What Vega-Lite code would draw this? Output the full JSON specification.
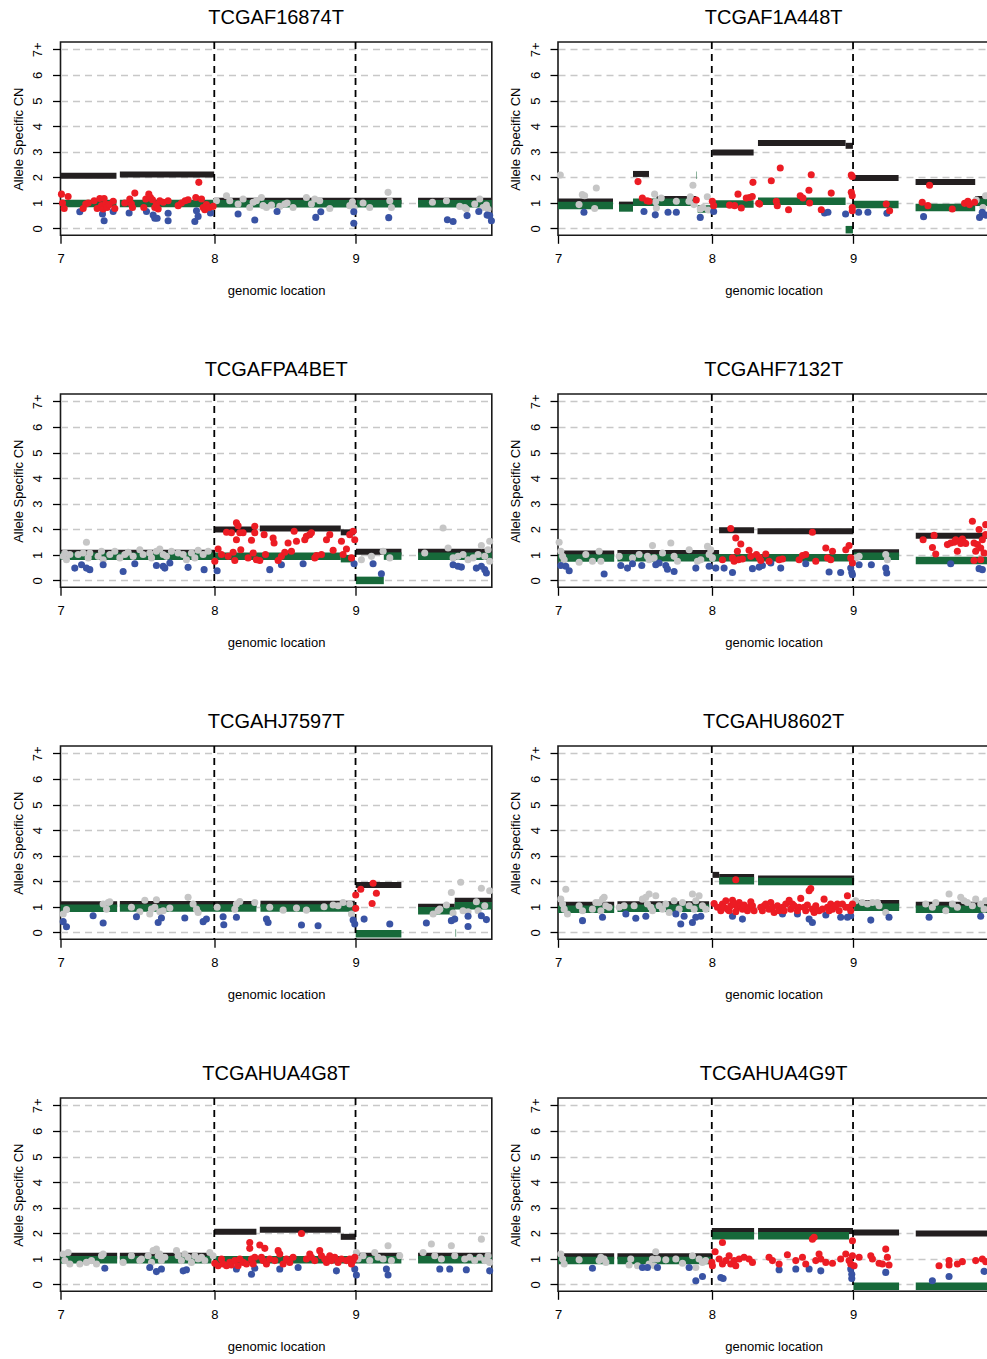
{
"$schema":"https://vega.github.io/schema/vega-lite/v6.json",
"padding":{"left":10.5,"top":6,"right":0,"bottom":0},
"columns":2,
"spacing":{"column":65.5,"row":158},
"bounds":"flush",
"data":{"values":[
{"s":1,"k":"M","x":0,"x2":58,"cn":2.06},{"s":1,"k":"M","x":61.5,"x2":159.2,"cn":2.11},{"s":1,"k":"M","x":159.2,"x2":353.3,"cn":1.08},{"s":1,"k":"M","x":370.5,"x2":446.9,"cn":1.08},
{"s":1,"k":"m","x":0,"x2":58,"cn":0.97},{"s":1,"k":"m","x":61.5,"x2":159.2,"cn":0.97},{"s":1,"k":"m","x":159.2,"x2":353.3,"cn":0.96},{"s":1,"k":"m","x":370.5,"x2":446.9,"cn":0.96},
{"s":1,"k":"c","x":159.35},{"s":1,"k":"c","x":305.71},
{"s":1,"k":"g","x":161.6,"cn":1.08},{"s":1,"k":"g","x":172,"cn":1.28},{"s":1,"k":"g","x":175.4,"cn":1.08},{"s":1,"k":"g","x":184,"cn":0.95},{"s":1,"k":"g","x":189.2,"cn":1.15},{"s":1,"k":"g","x":196.1,"cn":0.82},{"s":1,"k":"g","x":199.6,"cn":1.02},{"s":1,"k":"g","x":203,"cn":1.08},{"s":1,"k":"g","x":208.2,"cn":1.21},{"s":1,"k":"g","x":209.9,"cn":0.89},{"s":1,"k":"g","x":213.4,"cn":0.82},{"s":1,"k":"g","x":218.6,"cn":0.91},{"s":1,"k":"g","x":227.2,"cn":0.86},{"s":1,"k":"g","x":232.4,"cn":0.95},{"s":1,"k":"g","x":234.8,"cn":0.99},{"s":1,"k":"g","x":241,"cn":0.82},{"s":1,"k":"g","x":254.8,"cn":1.21},{"s":1,"k":"g","x":260,"cn":0.95},{"s":1,"k":"g","x":263.5,"cn":1.15},{"s":1,"k":"g","x":268.6,"cn":1.08},{"s":1,"k":"g","x":279,"cn":0.78},{"s":1,"k":"g","x":299.7,"cn":0.89},{"s":1,"k":"g","x":302.5,"cn":1.04},{"s":1,"k":"g","x":304.2,"cn":0.82},{"s":1,"k":"g","x":313.5,"cn":0.99},{"s":1,"k":"g","x":320.4,"cn":0.82},{"s":1,"k":"g","x":339.4,"cn":1.41},{"s":1,"k":"g","x":341.2,"cn":1.08},{"s":1,"k":"g","x":342.9,"cn":0.82},{"s":1,"k":"g","x":385.4,"cn":1.02},{"s":1,"k":"g","x":399.9,"cn":1.08},{"s":1,"k":"g","x":413.7,"cn":0.86},{"s":1,"k":"g","x":418.9,"cn":0.82},{"s":1,"k":"g","x":420.6,"cn":0.76},{"s":1,"k":"g","x":429.2,"cn":0.95},{"s":1,"k":"g","x":434.4,"cn":1.15},{"s":1,"k":"g","x":437.8,"cn":0.82},{"s":1,"k":"g","x":441.3,"cn":0.91},{"s":1,"k":"g","x":443,"cn":0.76},
{"s":1,"k":"b","x":20,"cn":0.65},{"s":1,"k":"b","x":43.5,"cn":0.56},{"s":1,"k":"b","x":45.2,"cn":0.3},{"s":1,"k":"b","x":54.6,"cn":0.66},{"s":1,"k":"b","x":71.1,"cn":0.6},{"s":1,"k":"b","x":89.1,"cn":0.66},{"s":1,"k":"b","x":96,"cn":0.52},{"s":1,"k":"b","x":97.7,"cn":0.4},{"s":1,"k":"b","x":100.1,"cn":0.4},{"s":1,"k":"b","x":111.5,"cn":0.59},{"s":1,"k":"b","x":111.5,"cn":0.3},{"s":1,"k":"b","x":139.2,"cn":0.27},{"s":1,"k":"b","x":140.9,"cn":0.69},{"s":1,"k":"b","x":142.6,"cn":0.47},{"s":1,"k":"b","x":155.4,"cn":0.6},{"s":1,"k":"b","x":184,"cn":0.56},{"s":1,"k":"b","x":201.3,"cn":0.33},{"s":1,"k":"b","x":224.4,"cn":0.66},{"s":1,"k":"b","x":264.5,"cn":0.43},{"s":1,"k":"b","x":269.7,"cn":0.65},{"s":1,"k":"b","x":303.9,"cn":0.65},{"s":1,"k":"b","x":303.9,"cn":0.2},{"s":1,"k":"b","x":340.1,"cn":0.42},{"s":1,"k":"b","x":400.9,"cn":0.34},{"s":1,"k":"b","x":406.8,"cn":0.27},{"s":1,"k":"b","x":421.3,"cn":0.5},{"s":1,"k":"b","x":433.4,"cn":0.66},{"s":1,"k":"b","x":442,"cn":0.52},{"s":1,"k":"b","x":444.7,"cn":0.5},{"s":1,"k":"b","x":446.5,"cn":0.3},
{"s":1,"k":"r","x":1,"cn":1.34},{"s":1,"k":"r","x":2.1,"cn":0.99},{"s":1,"k":"r","x":3.8,"cn":0.78},{"s":1,"k":"r","x":7.9,"cn":1.25},{"s":1,"k":"r","x":23.5,"cn":0.78},{"s":1,"k":"r","x":26.2,"cn":0.95},{"s":1,"k":"r","x":28.7,"cn":0.99},{"s":1,"k":"r","x":34.9,"cn":1.08},{"s":1,"k":"r","x":38,"cn":0.78},{"s":1,"k":"r","x":40.7,"cn":1.17},{"s":1,"k":"r","x":42.5,"cn":0.89},{"s":1,"k":"r","x":44.2,"cn":0.76},{"s":1,"k":"r","x":45.2,"cn":1.17},{"s":1,"k":"r","x":47,"cn":0.95},{"s":1,"k":"r","x":48.3,"cn":0.82},{"s":1,"k":"r","x":50.4,"cn":0.93},{"s":1,"k":"r","x":54.6,"cn":1.06},{"s":1,"k":"r","x":56.3,"cn":0.78},{"s":1,"k":"r","x":66.6,"cn":0.99},{"s":1,"k":"r","x":71.8,"cn":1.15},{"s":1,"k":"r","x":73.5,"cn":0.95},{"s":1,"k":"r","x":74.6,"cn":0.82},{"s":1,"k":"r","x":77,"cn":1.38},{"s":1,"k":"r","x":86.3,"cn":0.82},{"s":1,"k":"r","x":88.4,"cn":1.15},{"s":1,"k":"r","x":91.5,"cn":1.34},{"s":1,"k":"r","x":93.2,"cn":1.21},{"s":1,"k":"r","x":95.3,"cn":1.12},{"s":1,"k":"r","x":97.7,"cn":0.82},{"s":1,"k":"r","x":99.4,"cn":0.93},{"s":1,"k":"r","x":101.2,"cn":0.76},{"s":1,"k":"r","x":102.9,"cn":1.08},{"s":1,"k":"r","x":106.4,"cn":1.02},{"s":1,"k":"r","x":111.5,"cn":1.08},{"s":1,"k":"r","x":121.9,"cn":0.89},{"s":1,"k":"r","x":125.3,"cn":0.99},{"s":1,"k":"r","x":129.1,"cn":1.08},{"s":1,"k":"r","x":132.2,"cn":1.12},{"s":1,"k":"r","x":140.2,"cn":1.21},{"s":1,"k":"r","x":143.3,"cn":1.8},{"s":1,"k":"r","x":146.1,"cn":1.15},{"s":1,"k":"r","x":147.8,"cn":0.82},{"s":1,"k":"r","x":149.5,"cn":0.73},{"s":1,"k":"r","x":151.2,"cn":0.93},{"s":1,"k":"r","x":154,"cn":0.82},{"s":1,"k":"r","x":158.1,"cn":0.86},

{"s":2,"k":"M","x":0,"x2":57,"cn":1.05},{"s":2,"k":"M","x":63.2,"x2":77.7,"cn":0.93},{"s":2,"k":"M","x":77.7,"x2":94.3,"cn":2.13},{"s":2,"k":"M","x":101.9,"x2":143.3,"cn":1.15},{"s":2,"k":"M","x":159.9,"x2":202.7,"cn":2.97},{"s":2,"k":"M","x":207.2,"x2":298,"cn":3.34},{"s":2,"k":"M","x":298,"x2":305.6,"cn":3.23},{"s":2,"k":"M","x":305.6,"x2":352.9,"cn":1.97},{"s":2,"k":"M","x":370.5,"x2":432.3,"cn":1.81},{"s":2,"k":"M","x":432.3,"x2":446.9,"cn":1.15},
{"s":2,"k":"m","x":0,"x2":57,"cn":0.9},{"s":2,"k":"m","x":63.2,"x2":77.7,"cn":0.8},{"s":2,"k":"m","x":77.7,"x2":143.3,"cn":1.02},{"s":2,"k":"m","x":143.4,"x2":143.9,"cn":2.08},{"s":2,"k":"m","x":144.7,"x2":159.9,"cn":0.76},{"s":2,"k":"m","x":159.9,"x2":202.7,"cn":0.95},{"s":2,"k":"m","x":207.2,"x2":298,"cn":1.06},{"s":2,"k":"m","x":298,"x2":305.6,"cn":-0.05},{"s":2,"k":"m","x":305.6,"x2":352.9,"cn":0.93},{"s":2,"k":"m","x":370.5,"x2":432.3,"cn":0.82},{"s":2,"k":"m","x":432.3,"x2":446.9,"cn":1.02},
{"s":2,"k":"c","x":159.35},{"s":2,"k":"c","x":305.71},
{"s":2,"k":"g","x":2.4,"cn":2.09},{"s":2,"k":"g","x":21.8,"cn":0.93},{"s":2,"k":"g","x":25.2,"cn":1.32},{"s":2,"k":"g","x":27.6,"cn":1.28},{"s":2,"k":"g","x":38,"cn":0.78},{"s":2,"k":"g","x":39.7,"cn":1.58},{"s":2,"k":"g","x":100.1,"cn":1.34},{"s":2,"k":"g","x":101.2,"cn":1.04},{"s":2,"k":"g","x":101.9,"cn":0.8},{"s":2,"k":"g","x":107,"cn":1.19},{"s":2,"k":"g","x":122.6,"cn":1.06},{"s":2,"k":"g","x":135.7,"cn":1.06},{"s":2,"k":"g","x":137.1,"cn":1.24},{"s":2,"k":"g","x":139.8,"cn":1.69},{"s":2,"k":"g","x":140.9,"cn":0.93},{"s":2,"k":"g","x":147.4,"cn":0.76},{"s":2,"k":"g","x":150.2,"cn":0.82},{"s":2,"k":"g","x":154.7,"cn":1.24},{"s":2,"k":"g","x":155.7,"cn":0.72},{"s":2,"k":"g","x":433.3,"cn":1.11},{"s":2,"k":"g","x":440.3,"cn":0.82},{"s":2,"k":"g","x":443,"cn":1.28},
{"s":2,"k":"b","x":26.9,"cn":0.63},{"s":2,"k":"b","x":89.1,"cn":0.66},{"s":2,"k":"b","x":100.8,"cn":0.53},{"s":2,"k":"b","x":114,"cn":0.63},{"s":2,"k":"b","x":122.6,"cn":0.63},{"s":2,"k":"b","x":147.4,"cn":0.43},{"s":2,"k":"b","x":161.3,"cn":0.66},{"s":2,"k":"b","x":276.2,"cn":0.6},{"s":2,"k":"b","x":279.7,"cn":0.63},{"s":2,"k":"b","x":298,"cn":0.56},{"s":2,"k":"b","x":311.5,"cn":0.63},{"s":2,"k":"b","x":321.1,"cn":0.63},{"s":2,"k":"b","x":340.8,"cn":0.59},{"s":2,"k":"b","x":378.8,"cn":0.46},{"s":2,"k":"b","x":436.8,"cn":0.43},{"s":2,"k":"b","x":439.6,"cn":0.63},{"s":2,"k":"b","x":443,"cn":0.52},
{"s":2,"k":"r","x":82.9,"cn":1.83},{"s":2,"k":"r","x":87.4,"cn":1.19},{"s":2,"k":"r","x":92.2,"cn":1.08},{"s":2,"k":"r","x":94.3,"cn":1.06},{"s":2,"k":"r","x":143.3,"cn":1.11},{"s":2,"k":"r","x":159.9,"cn":1.06},{"s":2,"k":"r","x":161.3,"cn":0.89},{"s":2,"k":"r","x":177.8,"cn":0.91},{"s":2,"k":"r","x":183,"cn":0.89},{"s":2,"k":"r","x":186.5,"cn":1.34},{"s":2,"k":"r","x":189.9,"cn":0.8},{"s":2,"k":"r","x":195.1,"cn":1.19},{"s":2,"k":"r","x":198.5,"cn":1.21},{"s":2,"k":"r","x":201.3,"cn":1.25},{"s":2,"k":"r","x":202,"cn":1.8},{"s":2,"k":"r","x":207.9,"cn":0.98},{"s":2,"k":"r","x":208.9,"cn":0.95},{"s":2,"k":"r","x":221,"cn":1.86},{"s":2,"k":"r","x":226.2,"cn":1.06},{"s":2,"k":"r","x":227.2,"cn":0.89},{"s":2,"k":"r","x":230.3,"cn":2.36},{"s":2,"k":"r","x":238.9,"cn":0.73},{"s":2,"k":"r","x":251,"cn":1.28},{"s":2,"k":"r","x":253.8,"cn":1.19},{"s":2,"k":"r","x":260,"cn":1.49},{"s":2,"k":"r","x":260.7,"cn":0.99},{"s":2,"k":"r","x":262.4,"cn":2.1},{"s":2,"k":"r","x":272.8,"cn":0.73},{"s":2,"k":"r","x":283.1,"cn":1.38},{"s":2,"k":"r","x":303.9,"cn":2.09},{"s":2,"k":"r","x":304.9,"cn":2.03},{"s":2,"k":"r","x":303.9,"cn":1.41},{"s":2,"k":"r","x":304.9,"cn":1.28},{"s":2,"k":"r","x":304.9,"cn":0.82},{"s":2,"k":"r","x":304.9,"cn":0.69},{"s":2,"k":"r","x":340.1,"cn":0.95},{"s":2,"k":"r","x":343.6,"cn":0.69},{"s":2,"k":"r","x":377.4,"cn":1.02},{"s":2,"k":"r","x":383.3,"cn":0.89},{"s":2,"k":"r","x":385,"cn":1.69},{"s":2,"k":"r","x":408.5,"cn":0.76},{"s":2,"k":"r","x":421.3,"cn":0.98},{"s":2,"k":"r","x":424.7,"cn":1.06},{"s":2,"k":"r","x":426.4,"cn":0.93},{"s":2,"k":"r","x":431.6,"cn":1.02},

{"s":3,"k":"M","x":0,"x2":159.2,"cn":1.08},{"s":3,"k":"M","x":159.2,"x2":203,"cn":1.99},{"s":3,"k":"M","x":206.5,"x2":290.4,"cn":2.03},{"s":3,"k":"M","x":290.4,"x2":304.9,"cn":1.88},{"s":3,"k":"M","x":306.1,"x2":353.3,"cn":1.12},{"s":3,"k":"M","x":370.5,"x2":446.9,"cn":1.12},
{"s":3,"k":"m","x":0,"x2":159.2,"cn":0.94},{"s":3,"k":"m","x":159.2,"x2":290.4,"cn":0.94},{"s":3,"k":"m","x":290.4,"x2":304.9,"cn":0.85},{"s":3,"k":"m","x":306.1,"x2":335,"cn":0},{"s":3,"k":"m","x":335,"x2":353.3,"cn":0.95},{"s":3,"k":"m","x":370.5,"x2":446.9,"cn":0.94},
{"s":3,"k":"c","x":159.35},{"s":3,"k":"c","x":305.71},
{"s":3,"k":"g","x":2.8,"cn":0.94},{"s":3,"k":"g","x":4.5,"cn":1.07},{"s":3,"k":"g","x":6.2,"cn":0.81},{"s":3,"k":"g","x":9.7,"cn":1.01},{"s":3,"k":"g","x":18.3,"cn":1.01},{"s":3,"k":"g","x":23.5,"cn":1.07},{"s":3,"k":"g","x":26.9,"cn":1.49},{"s":3,"k":"g","x":28.7,"cn":0.88},{"s":3,"k":"g","x":30.4,"cn":1.07},{"s":3,"k":"g","x":39,"cn":0.94},{"s":3,"k":"g","x":42.5,"cn":1.14},{"s":3,"k":"g","x":44.2,"cn":0.81},{"s":3,"k":"g","x":51.1,"cn":1.01},{"s":3,"k":"g","x":56.3,"cn":1.14},{"s":3,"k":"g","x":61.5,"cn":0.88},{"s":3,"k":"g","x":66.6,"cn":1.01},{"s":3,"k":"g","x":70.1,"cn":1.1},{"s":3,"k":"g","x":75.3,"cn":0.94},{"s":3,"k":"g","x":82.2,"cn":1.2},{"s":3,"k":"g","x":85.6,"cn":1.01},{"s":3,"k":"g","x":92.5,"cn":1.07},{"s":3,"k":"g","x":94.3,"cn":0.88},{"s":3,"k":"g","x":99.4,"cn":1.14},{"s":3,"k":"g","x":102.9,"cn":1.23},{"s":3,"k":"g","x":106.4,"cn":1.01},{"s":3,"k":"g","x":109.8,"cn":0.94},{"s":3,"k":"g","x":115,"cn":1.14},{"s":3,"k":"g","x":121.9,"cn":1.07},{"s":3,"k":"g","x":127.1,"cn":1.01},{"s":3,"k":"g","x":130.5,"cn":0.81},{"s":3,"k":"g","x":135.7,"cn":1.07},{"s":3,"k":"g","x":139.2,"cn":0.88},{"s":3,"k":"g","x":142.6,"cn":1.18},{"s":3,"k":"g","x":147.8,"cn":1.01},{"s":3,"k":"g","x":153,"cn":1.14},{"s":3,"k":"g","x":311.8,"cn":0.81},{"s":3,"k":"g","x":322.2,"cn":0.94},{"s":3,"k":"g","x":334.3,"cn":1.14},{"s":3,"k":"g","x":341.2,"cn":0.88},{"s":3,"k":"g","x":377.4,"cn":1.07},{"s":3,"k":"g","x":396.4,"cn":2.05},{"s":3,"k":"g","x":401.6,"cn":1.27},{"s":3,"k":"g","x":406.8,"cn":0.88},{"s":3,"k":"g","x":411.9,"cn":0.94},{"s":3,"k":"g","x":417.1,"cn":1.01},{"s":3,"k":"g","x":422.3,"cn":0.81},{"s":3,"k":"g","x":427.5,"cn":0.88},{"s":3,"k":"g","x":432.7,"cn":1.01},{"s":3,"k":"g","x":436.1,"cn":1.36},{"s":3,"k":"g","x":439.6,"cn":0.94},{"s":3,"k":"g","x":443,"cn":1.2},{"s":3,"k":"g","x":444.7,"cn":1.53},{"s":3,"k":"g","x":444.7,"cn":0.75},
{"s":3,"k":"b","x":14.8,"cn":0.48},{"s":3,"k":"b","x":21.8,"cn":0.61},{"s":3,"k":"b","x":26.9,"cn":0.48},{"s":3,"k":"b","x":30.4,"cn":0.42},{"s":3,"k":"b","x":44.2,"cn":0.61},{"s":3,"k":"b","x":64.9,"cn":0.35},{"s":3,"k":"b","x":77,"cn":0.65},{"s":3,"k":"b","x":99.4,"cn":0.58},{"s":3,"k":"b","x":106.4,"cn":0.55},{"s":3,"k":"b","x":108.1,"cn":0.48},{"s":3,"k":"b","x":113.3,"cn":0.68},{"s":3,"k":"b","x":132.2,"cn":0.51},{"s":3,"k":"b","x":148.8,"cn":0.42},{"s":3,"k":"b","x":162.3,"cn":0.38},{"s":3,"k":"b","x":216.8,"cn":0.42},{"s":3,"k":"b","x":228.9,"cn":0.61},{"s":3,"k":"b","x":251.4,"cn":0.65},{"s":3,"k":"b","x":304.2,"cn":0.65},{"s":3,"k":"b","x":323.9,"cn":0.65},{"s":3,"k":"b","x":332.5,"cn":0.26},{"s":3,"k":"b","x":406.8,"cn":0.61},{"s":3,"k":"b","x":411.9,"cn":0.55},{"s":3,"k":"b","x":415.4,"cn":0.52},{"s":3,"k":"b","x":430.9,"cn":0.48},{"s":3,"k":"b","x":436.1,"cn":0.55},{"s":3,"k":"b","x":439.6,"cn":0.42},{"s":3,"k":"b","x":441.3,"cn":0.29},
{"s":3,"k":"r","x":159.9,"cn":0.75},{"s":3,"k":"r","x":163.3,"cn":1.23},{"s":3,"k":"r","x":166.8,"cn":1.01},{"s":3,"k":"r","x":172,"cn":1.88},{"s":3,"k":"r","x":173.7,"cn":0.94},{"s":3,"k":"r","x":177.1,"cn":1.86},{"s":3,"k":"r","x":178.9,"cn":1.1},{"s":3,"k":"r","x":180.6,"cn":0.78},{"s":3,"k":"r","x":182.3,"cn":2.25},{"s":3,"k":"r","x":182.3,"cn":1.59},{"s":3,"k":"r","x":184,"cn":2.14},{"s":3,"k":"r","x":185.8,"cn":1.86},{"s":3,"k":"r","x":186.8,"cn":1.2},{"s":3,"k":"r","x":189.2,"cn":1.86},{"s":3,"k":"r","x":194.4,"cn":0.88},{"s":3,"k":"r","x":197.9,"cn":1.57},{"s":3,"k":"r","x":199.6,"cn":1.07},{"s":3,"k":"r","x":201.3,"cn":2.12},{"s":3,"k":"r","x":201.3,"cn":1.86},{"s":3,"k":"r","x":203,"cn":0.81},{"s":3,"k":"r","x":206.5,"cn":0.78},{"s":3,"k":"r","x":211,"cn":1.79},{"s":3,"k":"r","x":212.4,"cn":1.01},{"s":3,"k":"r","x":220.3,"cn":1.66},{"s":3,"k":"r","x":221.3,"cn":1.46},{"s":3,"k":"r","x":225.5,"cn":0.78},{"s":3,"k":"r","x":228.9,"cn":0.94},{"s":3,"k":"r","x":232.4,"cn":1.1},{"s":3,"k":"r","x":235.8,"cn":1.46},{"s":3,"k":"r","x":239.3,"cn":1.14},{"s":3,"k":"r","x":242.1,"cn":1.92},{"s":3,"k":"r","x":244.5,"cn":1.53},{"s":3,"k":"r","x":253.1,"cn":1.59},{"s":3,"k":"r","x":254.8,"cn":1.73},{"s":3,"k":"r","x":258.3,"cn":1.79},{"s":3,"k":"r","x":260,"cn":1.86},{"s":3,"k":"r","x":263.5,"cn":0.88},{"s":3,"k":"r","x":265.2,"cn":0.97},{"s":3,"k":"r","x":270.4,"cn":1.01},{"s":3,"k":"r","x":275.6,"cn":1.59},{"s":3,"k":"r","x":279,"cn":1.79},{"s":3,"k":"r","x":282.5,"cn":1.18},{"s":3,"k":"r","x":291.1,"cn":1.53},{"s":3,"k":"r","x":292.8,"cn":1.01},{"s":3,"k":"r","x":296.3,"cn":1.23},{"s":3,"k":"r","x":299.7,"cn":1.79},{"s":3,"k":"r","x":301.5,"cn":0.88},{"s":3,"k":"r","x":303.2,"cn":1.92},{"s":3,"k":"r","x":304.9,"cn":1.59},

{"s":4,"k":"M","x":0,"x2":58.2,"cn":1.05},{"s":4,"k":"M","x":61.6,"x2":166.9,"cn":1.07},{"s":4,"k":"M","x":166.9,"x2":203.2,"cn":1.96},{"s":4,"k":"M","x":206.7,"x2":306.1,"cn":1.92},{"s":4,"k":"M","x":306.1,"x2":353.4,"cn":1.1},{"s":4,"k":"M","x":370.7,"x2":446.9,"cn":1.75},
{"s":4,"k":"m","x":0,"x2":58.2,"cn":0.88},{"s":4,"k":"m","x":61.6,"x2":306.1,"cn":0.89},{"s":4,"k":"m","x":306.1,"x2":353.4,"cn":0.94},{"s":4,"k":"m","x":370.7,"x2":446.9,"cn":0.78},
{"s":4,"k":"c","x":159.35},{"s":4,"k":"c","x":305.71},
{"s":4,"k":"g","x":1.2,"cn":1.49},{"s":4,"k":"g","x":2.9,"cn":1.14},{"s":4,"k":"g","x":4.7,"cn":0.94},{"s":4,"k":"g","x":6.4,"cn":0.81},{"s":4,"k":"g","x":21.9,"cn":0.71},{"s":4,"k":"g","x":28.8,"cn":1.01},{"s":4,"k":"g","x":35.7,"cn":0.75},{"s":4,"k":"g","x":42.6,"cn":1.14},{"s":4,"k":"g","x":44.4,"cn":0.75},{"s":4,"k":"g","x":63.4,"cn":0.94},{"s":4,"k":"g","x":77.2,"cn":0.88},{"s":4,"k":"g","x":84.1,"cn":1.01},{"s":4,"k":"g","x":92.7,"cn":0.94},{"s":4,"k":"g","x":94.4,"cn":0.81},{"s":4,"k":"g","x":97.9,"cn":1.36},{"s":4,"k":"g","x":99.6,"cn":0.88},{"s":4,"k":"g","x":108.3,"cn":1.07},{"s":4,"k":"g","x":116.9,"cn":1.46},{"s":4,"k":"g","x":120.3,"cn":0.94},{"s":4,"k":"g","x":123.8,"cn":0.75},{"s":4,"k":"g","x":135.9,"cn":1.2},{"s":4,"k":"g","x":144.5,"cn":0.75},{"s":4,"k":"g","x":148,"cn":0.81},{"s":4,"k":"g","x":154.9,"cn":1.33},{"s":4,"k":"g","x":156.6,"cn":1.01},{"s":4,"k":"g","x":158.3,"cn":1.2},{"s":4,"k":"g","x":160,"cn":0.88},{"s":4,"k":"g","x":308.5,"cn":0.88},{"s":4,"k":"g","x":312,"cn":0.94},{"s":4,"k":"g","x":339.6,"cn":1.01},{"s":4,"k":"g","x":341.3,"cn":0.81},
{"s":4,"k":"b","x":2.9,"cn":0.58},{"s":4,"k":"b","x":8.1,"cn":0.55},{"s":4,"k":"b","x":11.6,"cn":0.38},{"s":4,"k":"b","x":47.8,"cn":0.25},{"s":4,"k":"b","x":65.1,"cn":0.58},{"s":4,"k":"b","x":72,"cn":0.48},{"s":4,"k":"b","x":77.2,"cn":0.65},{"s":4,"k":"b","x":86.8,"cn":0.58},{"s":4,"k":"b","x":101.3,"cn":0.61},{"s":4,"k":"b","x":104.8,"cn":0.68},{"s":4,"k":"b","x":111.7,"cn":0.58},{"s":4,"k":"b","x":113.4,"cn":0.44},{"s":4,"k":"b","x":120.3,"cn":0.35},{"s":4,"k":"b","x":142.8,"cn":0.48},{"s":4,"k":"b","x":156.6,"cn":0.55},{"s":4,"k":"b","x":163.5,"cn":0.48},{"s":4,"k":"b","x":172.1,"cn":0.48},{"s":4,"k":"b","x":180.8,"cn":0.31},{"s":4,"k":"b","x":201.5,"cn":0.46},{"s":4,"k":"b","x":208.4,"cn":0.52},{"s":4,"k":"b","x":211.8,"cn":0.58},{"s":4,"k":"b","x":220.5,"cn":0.68},{"s":4,"k":"b","x":230.8,"cn":0.48},{"s":4,"k":"b","x":256.7,"cn":0.65},{"s":4,"k":"b","x":280.9,"cn":0.33},{"s":4,"k":"b","x":292.9,"cn":0.31},{"s":4,"k":"b","x":303.3,"cn":0.48},{"s":4,"k":"b","x":304.4,"cn":0.31},{"s":4,"k":"b","x":305.1,"cn":0.22},{"s":4,"k":"b","x":312,"cn":0.61},{"s":4,"k":"b","x":324.7,"cn":0.61},{"s":4,"k":"b","x":339.6,"cn":0.48},{"s":4,"k":"b","x":340.6,"cn":0.29},{"s":4,"k":"b","x":406.9,"cn":0.65},{"s":4,"k":"b","x":436.3,"cn":0.46},{"s":4,"k":"b","x":439.7,"cn":0.42},
{"s":4,"k":"r","x":170.4,"cn":0.81},{"s":4,"k":"r","x":179,"cn":2.03},{"s":4,"k":"r","x":180.8,"cn":0.88},{"s":4,"k":"r","x":182.5,"cn":0.75},{"s":4,"k":"r","x":184.2,"cn":1.66},{"s":4,"k":"r","x":185.9,"cn":1.14},{"s":4,"k":"r","x":187,"cn":0.81},{"s":4,"k":"r","x":189.4,"cn":1.42},{"s":4,"k":"r","x":191.1,"cn":0.84},{"s":4,"k":"r","x":198,"cn":1.18},{"s":4,"k":"r","x":199.8,"cn":0.94},{"s":4,"k":"r","x":205.6,"cn":1.01},{"s":4,"k":"r","x":208.4,"cn":0.9},{"s":4,"k":"r","x":210.1,"cn":0.78},{"s":4,"k":"r","x":215.3,"cn":1.03},{"s":4,"k":"r","x":218.7,"cn":0.75},{"s":4,"k":"r","x":229.1,"cn":0.81},{"s":4,"k":"r","x":232.6,"cn":0.84},{"s":4,"k":"r","x":249.8,"cn":0.81},{"s":4,"k":"r","x":253.3,"cn":0.97},{"s":4,"k":"r","x":256.7,"cn":1.01},{"s":4,"k":"r","x":267.1,"cn":0.75},{"s":4,"k":"r","x":263.6,"cn":1.88},{"s":4,"k":"r","x":277.5,"cn":1.27},{"s":4,"k":"r","x":279.2,"cn":0.88},{"s":4,"k":"r","x":282.6,"cn":0.81},{"s":4,"k":"r","x":284.4,"cn":1.14},{"s":4,"k":"r","x":298.2,"cn":1.2},{"s":4,"k":"r","x":301.6,"cn":1.36},{"s":4,"k":"r","x":303.3,"cn":0.88},{"s":4,"k":"r","x":305.1,"cn":0.68},{"s":4,"k":"r","x":378.3,"cn":1.59},{"s":4,"k":"r","x":388,"cn":1.29},{"s":4,"k":"r","x":389.7,"cn":1.76},{"s":4,"k":"r","x":391.4,"cn":1.03},{"s":4,"k":"r","x":403.5,"cn":1.4},{"s":4,"k":"r","x":406.9,"cn":1.46},{"s":4,"k":"r","x":410.4,"cn":1.49},{"s":4,"k":"r","x":412.1,"cn":1.59},{"s":4,"k":"r","x":413.8,"cn":1.14},{"s":4,"k":"r","x":415.6,"cn":1.53},{"s":4,"k":"r","x":417.3,"cn":1.44},{"s":4,"k":"r","x":419,"cn":1.62},{"s":4,"k":"r","x":420.7,"cn":1.49},{"s":4,"k":"r","x":422.5,"cn":1.44},{"s":4,"k":"r","x":429.4,"cn":2.31},{"s":4,"k":"r","x":431.1,"cn":1.46},{"s":4,"k":"r","x":432.8,"cn":1.14},{"s":4,"k":"r","x":434.6,"cn":1.4},{"s":4,"k":"r","x":436.3,"cn":1.99},{"s":4,"k":"r","x":438,"cn":1.27},{"s":4,"k":"r","x":439.7,"cn":1.59},{"s":4,"k":"r","x":441.5,"cn":1.07},{"s":4,"k":"r","x":443.2,"cn":2.18},{"s":4,"k":"r","x":443.2,"cn":1.79},{"s":4,"k":"r","x":431.1,"cn":0.78},{"s":4,"k":"r","x":438,"cn":0.81},

{"s":5,"k":"M","x":0,"x2":58.7,"cn":1.1},{"s":5,"k":"M","x":61.5,"x2":203,"cn":1.11},{"s":5,"k":"M","x":207.2,"x2":304.9,"cn":1.12},{"s":5,"k":"M","x":305.9,"x2":353.2,"cn":1.85},{"s":5,"k":"M","x":370.5,"x2":408.5,"cn":1.0},{"s":5,"k":"M","x":408.5,"x2":446.9,"cn":1.24},
{"s":5,"k":"m","x":0,"x2":58.7,"cn":0.94},{"s":5,"k":"m","x":61.5,"x2":203,"cn":0.95},{"s":5,"k":"m","x":207.2,"x2":304.9,"cn":0.95},{"s":5,"k":"m","x":305.9,"x2":353.2,"cn":-0.05},{"s":5,"k":"m","x":370.5,"x2":408.5,"cn":0.85},{"s":5,"k":"m","x":408.5,"x2":446.9,"cn":1.04},{"s":5,"k":"m","x":409.3,"x2":409.9,"cn":-0.02},
{"s":5,"k":"c","x":159.35},{"s":5,"k":"c","x":305.71},
{"s":5,"k":"g","x":2.8,"cn":0.72},{"s":5,"k":"g","x":6.2,"cn":0.89},{"s":5,"k":"g","x":44.2,"cn":1.11},{"s":5,"k":"g","x":47.7,"cn":0.91},{"s":5,"k":"g","x":49.4,"cn":1.17},{"s":5,"k":"g","x":51.1,"cn":1.2},{"s":5,"k":"g","x":73.5,"cn":0.98},{"s":5,"k":"g","x":82.2,"cn":0.81},{"s":5,"k":"g","x":87.4,"cn":1.26},{"s":5,"k":"g","x":92.5,"cn":0.72},{"s":5,"k":"g","x":94.3,"cn":0.91},{"s":5,"k":"g","x":97.7,"cn":0.98},{"s":5,"k":"g","x":99.4,"cn":1.28},{"s":5,"k":"g","x":102.9,"cn":0.81},{"s":5,"k":"g","x":106.4,"cn":0.85},{"s":5,"k":"g","x":113.3,"cn":0.95},{"s":5,"k":"g","x":132.2,"cn":1.37},{"s":5,"k":"g","x":137.4,"cn":1.11},{"s":5,"k":"g","x":140.9,"cn":0.91},{"s":5,"k":"g","x":142.6,"cn":0.78},{"s":5,"k":"g","x":162.3,"cn":0.98},{"s":5,"k":"g","x":180.6,"cn":0.91},{"s":5,"k":"g","x":182.3,"cn":1.11},{"s":5,"k":"g","x":185.8,"cn":1.21},{"s":5,"k":"g","x":201.3,"cn":1.17},{"s":5,"k":"g","x":216.8,"cn":0.98},{"s":5,"k":"g","x":230.7,"cn":0.87},{"s":5,"k":"g","x":244.5,"cn":0.95},{"s":5,"k":"g","x":254.8,"cn":0.87},{"s":5,"k":"g","x":273.1,"cn":1.0},{"s":5,"k":"g","x":282.5,"cn":1.07},{"s":5,"k":"g","x":287.6,"cn":1.04},{"s":5,"k":"g","x":292.8,"cn":1.17},{"s":5,"k":"g","x":299.7,"cn":1.11},{"s":5,"k":"g","x":301.5,"cn":0.72},{"s":5,"k":"g","x":386.1,"cn":0.72},{"s":5,"k":"g","x":391.2,"cn":0.85},{"s":5,"k":"g","x":393,"cn":0.91},{"s":5,"k":"g","x":399.9,"cn":1.07},{"s":5,"k":"g","x":405,"cn":1.56},{"s":5,"k":"g","x":406.8,"cn":0.76},{"s":5,"k":"g","x":414.7,"cn":1.96},{"s":5,"k":"g","x":417.1,"cn":0.85},{"s":5,"k":"g","x":422.3,"cn":0.81},{"s":5,"k":"g","x":430.9,"cn":1.2},{"s":5,"k":"g","x":432.7,"cn":0.85},{"s":5,"k":"g","x":436.1,"cn":1.73},{"s":5,"k":"g","x":439.6,"cn":1.04},{"s":5,"k":"g","x":444.7,"cn":1.63},
{"s":5,"k":"b","x":2.8,"cn":0.42},{"s":5,"k":"b","x":6.2,"cn":0.22},{"s":5,"k":"b","x":33.8,"cn":0.65},{"s":5,"k":"b","x":44.2,"cn":0.37},{"s":5,"k":"b","x":78.7,"cn":0.61},{"s":5,"k":"b","x":101.2,"cn":0.39},{"s":5,"k":"b","x":104.6,"cn":0.56},{"s":5,"k":"b","x":128.8,"cn":0.56},{"s":5,"k":"b","x":147.8,"cn":0.42},{"s":5,"k":"b","x":151.2,"cn":0.52},{"s":5,"k":"b","x":168.5,"cn":0.61},{"s":5,"k":"b","x":169.2,"cn":0.3},{"s":5,"k":"b","x":182.3,"cn":0.59},{"s":5,"k":"b","x":213.4,"cn":0.52},{"s":5,"k":"b","x":215.1,"cn":0.39},{"s":5,"k":"b","x":249.7,"cn":0.29},{"s":5,"k":"b","x":266.9,"cn":0.26},{"s":5,"k":"b","x":303.2,"cn":0.48},{"s":5,"k":"b","x":304.9,"cn":0.33},{"s":5,"k":"b","x":314.6,"cn":0.52},{"s":5,"k":"b","x":341.2,"cn":0.33},{"s":5,"k":"b","x":379.1,"cn":0.37},{"s":5,"k":"b","x":405,"cn":0.46},{"s":5,"k":"b","x":408.5,"cn":0.52},{"s":5,"k":"b","x":422.3,"cn":0.63},{"s":5,"k":"b","x":422.3,"cn":0.23},{"s":5,"k":"b","x":436.1,"cn":0.65},{"s":5,"k":"b","x":441.3,"cn":0.5},
{"s":5,"k":"r","x":305.9,"cn":0.94},{"s":5,"k":"r","x":305.9,"cn":1.46},{"s":5,"k":"r","x":311.1,"cn":1.69},{"s":5,"k":"r","x":323.9,"cn":1.92},{"s":5,"k":"r","x":327.3,"cn":1.53},{"s":5,"k":"r","x":322.9,"cn":1.13},

{"s":6,"k":"M","x":0,"x2":58.2,"cn":1.08},{"s":6,"k":"M","x":61.6,"x2":156.6,"cn":1.1},{"s":6,"k":"M","x":160.1,"x2":167,"cn":2.25},{"s":6,"k":"M","x":167,"x2":203.2,"cn":2.17},{"s":6,"k":"M","x":207.3,"x2":306.8,"cn":2.11},{"s":6,"k":"M","x":306.8,"x2":353.5,"cn":1.15},{"s":6,"k":"M","x":370.7,"x2":446.9,"cn":1.08},
{"s":6,"k":"m","x":0,"x2":58.2,"cn":0.91},{"s":6,"k":"m","x":61.6,"x2":156.6,"cn":0.94},{"s":6,"k":"m","x":167,"x2":203.2,"cn":2.02},{"s":6,"k":"m","x":207.3,"x2":306.8,"cn":1.99},{"s":6,"k":"m","x":306.8,"x2":353.5,"cn":0.98},{"s":6,"k":"m","x":370.7,"x2":446.9,"cn":0.91},
{"s":6,"k":"c","x":159.35},{"s":6,"k":"c","x":305.71},
{"s":6,"k":"g","x":2.9,"cn":1.3},{"s":6,"k":"g","x":4.7,"cn":1.11},{"s":6,"k":"g","x":6.4,"cn":0.91},{"s":6,"k":"g","x":8.1,"cn":1.69},{"s":6,"k":"g","x":9.8,"cn":0.72},{"s":6,"k":"g","x":21.9,"cn":1.04},{"s":6,"k":"g","x":25.4,"cn":0.85},{"s":6,"k":"g","x":35.7,"cn":0.91},{"s":6,"k":"g","x":39.2,"cn":1.17},{"s":6,"k":"g","x":42.6,"cn":1.17},{"s":6,"k":"g","x":44.4,"cn":0.85},{"s":6,"k":"g","x":46.1,"cn":1.3},{"s":6,"k":"g","x":47.8,"cn":1.37},{"s":6,"k":"g","x":49.6,"cn":1.04},{"s":6,"k":"g","x":53,"cn":0.98},{"s":6,"k":"g","x":63.4,"cn":0.98},{"s":6,"k":"g","x":68.5,"cn":1.04},{"s":6,"k":"g","x":78.9,"cn":1.04},{"s":6,"k":"g","x":87.5,"cn":1.3},{"s":6,"k":"g","x":91,"cn":1.37},{"s":6,"k":"g","x":92.7,"cn":1.11},{"s":6,"k":"g","x":94.4,"cn":1.5},{"s":6,"k":"g","x":96.2,"cn":0.98},{"s":6,"k":"g","x":97.9,"cn":0.85},{"s":6,"k":"g","x":101.3,"cn":1.43},{"s":6,"k":"g","x":104.8,"cn":1.04},{"s":6,"k":"g","x":108.3,"cn":0.91},{"s":6,"k":"g","x":111.7,"cn":1.11},{"s":6,"k":"g","x":115.2,"cn":0.78},{"s":6,"k":"g","x":120.3,"cn":1.24},{"s":6,"k":"g","x":125.5,"cn":0.91},{"s":6,"k":"g","x":129,"cn":1.17},{"s":6,"k":"g","x":135.9,"cn":1.04},{"s":6,"k":"g","x":139.3,"cn":1.5},{"s":6,"k":"g","x":141.1,"cn":0.91},{"s":6,"k":"g","x":142.8,"cn":1.24},{"s":6,"k":"g","x":146.2,"cn":1.43},{"s":6,"k":"g","x":149.7,"cn":1.04},{"s":6,"k":"g","x":153.1,"cn":0.91},{"s":6,"k":"g","x":308.5,"cn":1.24},{"s":6,"k":"g","x":315.4,"cn":1.17},{"s":6,"k":"g","x":320.6,"cn":1.11},{"s":6,"k":"g","x":325.8,"cn":1.17},{"s":6,"k":"g","x":331,"cn":1.17},{"s":6,"k":"g","x":332.7,"cn":1.04},{"s":6,"k":"g","x":339.6,"cn":0.78},{"s":6,"k":"g","x":381,"cn":1.11},{"s":6,"k":"g","x":387.9,"cn":0.98},{"s":6,"k":"g","x":391.4,"cn":1.17},{"s":6,"k":"g","x":401.8,"cn":0.85},{"s":6,"k":"g","x":405.2,"cn":1.5},{"s":6,"k":"g","x":408.7,"cn":1.11},{"s":6,"k":"g","x":413.8,"cn":0.98},{"s":6,"k":"g","x":417.3,"cn":1.37},{"s":6,"k":"g","x":420.7,"cn":1.24},{"s":6,"k":"g","x":424.2,"cn":1.17},{"s":6,"k":"g","x":429.4,"cn":1.04},{"s":6,"k":"g","x":432.8,"cn":1.3},{"s":6,"k":"g","x":438,"cn":1.11},{"s":6,"k":"g","x":441.5,"cn":0.91},{"s":6,"k":"g","x":443.2,"cn":1.24},
{"s":6,"k":"b","x":25.4,"cn":0.46},{"s":6,"k":"b","x":46.1,"cn":0.59},{"s":6,"k":"b","x":70.3,"cn":0.72},{"s":6,"k":"b","x":80.6,"cn":0.55},{"s":6,"k":"b","x":91,"cn":0.63},{"s":6,"k":"b","x":122.1,"cn":0.72},{"s":6,"k":"b","x":127.2,"cn":0.33},{"s":6,"k":"b","x":130.7,"cn":0.63},{"s":6,"k":"b","x":139.3,"cn":0.39},{"s":6,"k":"b","x":142.8,"cn":0.59},{"s":6,"k":"b","x":148,"cn":0.63},{"s":6,"k":"b","x":180.8,"cn":0.63},{"s":6,"k":"b","x":191.1,"cn":0.52},{"s":6,"k":"b","x":232.6,"cn":0.72},{"s":6,"k":"b","x":248.1,"cn":0.72},{"s":6,"k":"b","x":260.2,"cn":0.52},{"s":6,"k":"b","x":263.6,"cn":0.39},{"s":6,"k":"b","x":277.5,"cn":0.68},{"s":6,"k":"b","x":292.9,"cn":0.59},{"s":6,"k":"b","x":299.9,"cn":0.59},{"s":6,"k":"b","x":303.3,"cn":0.65},{"s":6,"k":"b","x":324.1,"cn":0.48},{"s":6,"k":"b","x":343,"cn":0.59},{"s":6,"k":"b","x":384.5,"cn":0.59},{"s":6,"k":"b","x":438,"cn":0.63},
{"s":6,"k":"r","x":161.8,"cn":1.13},{"s":6,"k":"r","x":165.2,"cn":0.98},{"s":6,"k":"r","x":168.7,"cn":0.85},{"s":6,"k":"r","x":170.4,"cn":1.11},{"s":6,"k":"r","x":172.1,"cn":0.98},{"s":6,"k":"r","x":173.9,"cn":1.24},{"s":6,"k":"r","x":175.6,"cn":0.91},{"s":6,"k":"r","x":177.3,"cn":0.85},{"s":6,"k":"r","x":179,"cn":1.04},{"s":6,"k":"r","x":180.8,"cn":1.26},{"s":6,"k":"r","x":182.5,"cn":1.11},{"s":6,"k":"r","x":184.2,"cn":0.81},{"s":6,"k":"r","x":184.2,"cn":2.06},{"s":6,"k":"r","x":185.9,"cn":0.98},{"s":6,"k":"r","x":187.7,"cn":1.17},{"s":6,"k":"r","x":189.4,"cn":1.04},{"s":6,"k":"r","x":191.1,"cn":0.91},{"s":6,"k":"r","x":192.8,"cn":1.07},{"s":6,"k":"r","x":196.3,"cn":0.85},{"s":6,"k":"r","x":198,"cn":0.98},{"s":6,"k":"r","x":199.8,"cn":1.2},{"s":6,"k":"r","x":201.5,"cn":1.04},{"s":6,"k":"r","x":203.2,"cn":0.85},{"s":6,"k":"r","x":210.1,"cn":0.98},{"s":6,"k":"r","x":211.8,"cn":0.85},{"s":6,"k":"r","x":213.6,"cn":1.04},{"s":6,"k":"r","x":215.3,"cn":1.11},{"s":6,"k":"r","x":218.7,"cn":0.91},{"s":6,"k":"r","x":220.5,"cn":1.17},{"s":6,"k":"r","x":222.2,"cn":0.98},{"s":6,"k":"r","x":223.9,"cn":0.78},{"s":6,"k":"r","x":227.4,"cn":1.04},{"s":6,"k":"r","x":229.1,"cn":0.85},{"s":6,"k":"r","x":232.6,"cn":0.98},{"s":6,"k":"r","x":234.3,"cn":0.85},{"s":6,"k":"r","x":236,"cn":1.11},{"s":6,"k":"r","x":239.5,"cn":1.26},{"s":6,"k":"r","x":241.2,"cn":0.91},{"s":6,"k":"r","x":242.9,"cn":1.11},{"s":6,"k":"r","x":244.7,"cn":1.04},{"s":6,"k":"r","x":248.1,"cn":0.85},{"s":6,"k":"r","x":249.8,"cn":0.98},{"s":6,"k":"r","x":251.5,"cn":1.33},{"s":6,"k":"r","x":255,"cn":0.98},{"s":6,"k":"r","x":256.7,"cn":0.85},{"s":6,"k":"r","x":258.4,"cn":1.07},{"s":6,"k":"r","x":260.2,"cn":1.63},{"s":6,"k":"r","x":261.9,"cn":1.72},{"s":6,"k":"r","x":263.6,"cn":0.91},{"s":6,"k":"r","x":265.4,"cn":0.78},{"s":6,"k":"r","x":267.1,"cn":1.04},{"s":6,"k":"r","x":270.5,"cn":0.85},{"s":6,"k":"r","x":274,"cn":0.91},{"s":6,"k":"r","x":275.7,"cn":1.3},{"s":6,"k":"r","x":279.2,"cn":0.98},{"s":6,"k":"r","x":280.9,"cn":0.85},{"s":6,"k":"r","x":282.6,"cn":1.11},{"s":6,"k":"r","x":284.4,"cn":0.91},{"s":6,"k":"r","x":287.8,"cn":1.04},{"s":6,"k":"r","x":289.5,"cn":1.11},{"s":6,"k":"r","x":291.3,"cn":0.85},{"s":6,"k":"r","x":294.7,"cn":1.11},{"s":6,"k":"r","x":298.2,"cn":0.98},{"s":6,"k":"r","x":299.9,"cn":1.43},{"s":6,"k":"r","x":301.6,"cn":0.98},{"s":6,"k":"r","x":303.3,"cn":0.85},{"s":6,"k":"r","x":305.1,"cn":1.11},

{"s":7,"k":"M","x":0,"x2":58.7,"cn":1.12},{"s":7,"k":"M","x":61.5,"x2":156.4,"cn":1.12},{"s":7,"k":"M","x":159.2,"x2":203,"cn":2.06},{"s":7,"k":"M","x":206.5,"x2":290.4,"cn":2.14},{"s":7,"k":"M","x":290.4,"x2":305.9,"cn":1.86},{"s":7,"k":"M","x":305.9,"x2":353.2,"cn":1.12},{"s":7,"k":"M","x":370.5,"x2":446.9,"cn":1.12},
{"s":7,"k":"m","x":0,"x2":58.7,"cn":0.96},{"s":7,"k":"m","x":61.5,"x2":156.4,"cn":0.96},{"s":7,"k":"m","x":159.2,"x2":305.9,"cn":0.96},{"s":7,"k":"m","x":305.9,"x2":353.2,"cn":0.96},{"s":7,"k":"m","x":370.5,"x2":446.9,"cn":0.96},
{"s":7,"k":"c","x":159.35},{"s":7,"k":"c","x":305.71},
{"s":7,"k":"g","x":2.8,"cn":1.19},{"s":7,"k":"g","x":4.5,"cn":0.93},{"s":7,"k":"g","x":7.9,"cn":1.25},{"s":7,"k":"g","x":9.7,"cn":0.8},{"s":7,"k":"g","x":20,"cn":0.8},{"s":7,"k":"g","x":26.9,"cn":0.86},{"s":7,"k":"g","x":32.1,"cn":0.93},{"s":7,"k":"g","x":37.3,"cn":0.8},{"s":7,"k":"g","x":42.5,"cn":1.12},{"s":7,"k":"g","x":44.2,"cn":1.19},{"s":7,"k":"g","x":64.9,"cn":0.86},{"s":7,"k":"g","x":73.5,"cn":1.12},{"s":7,"k":"g","x":82.2,"cn":0.93},{"s":7,"k":"g","x":83.9,"cn":0.99},{"s":7,"k":"g","x":90.8,"cn":1.12},{"s":7,"k":"g","x":94.3,"cn":0.86},{"s":7,"k":"g","x":96,"cn":1.32},{"s":7,"k":"g","x":99.4,"cn":1.38},{"s":7,"k":"g","x":101.2,"cn":1.12},{"s":7,"k":"g","x":102.9,"cn":1.19},{"s":7,"k":"g","x":104.6,"cn":0.93},{"s":7,"k":"g","x":108.1,"cn":1.06},{"s":7,"k":"g","x":120.2,"cn":1.32},{"s":7,"k":"g","x":121.9,"cn":1.12},{"s":7,"k":"g","x":125.3,"cn":0.93},{"s":7,"k":"g","x":128.8,"cn":1.19},{"s":7,"k":"g","x":132.2,"cn":1.06},{"s":7,"k":"g","x":135.7,"cn":0.86},{"s":7,"k":"g","x":139.2,"cn":1.12},{"s":7,"k":"g","x":142.6,"cn":0.99},{"s":7,"k":"g","x":146.1,"cn":1.06},{"s":7,"k":"g","x":149.5,"cn":0.93},{"s":7,"k":"g","x":154.7,"cn":1.25},{"s":7,"k":"g","x":158.1,"cn":1.12},{"s":7,"k":"g","x":306.6,"cn":1.25},{"s":7,"k":"g","x":308.4,"cn":0.99},{"s":7,"k":"g","x":313.5,"cn":1.12},{"s":7,"k":"g","x":320.4,"cn":0.93},{"s":7,"k":"g","x":325.6,"cn":1.25},{"s":7,"k":"g","x":329.1,"cn":1.06},{"s":7,"k":"g","x":334.3,"cn":0.99},{"s":7,"k":"g","x":339.4,"cn":1.51},{"s":7,"k":"g","x":342.9,"cn":0.93},{"s":7,"k":"g","x":351.5,"cn":1.12},{"s":7,"k":"g","x":375.7,"cn":1.25},{"s":7,"k":"g","x":384.3,"cn":1.58},{"s":7,"k":"g","x":387.8,"cn":1.12},{"s":7,"k":"g","x":394.7,"cn":0.99},{"s":7,"k":"g","x":405,"cn":1.51},{"s":7,"k":"g","x":408.5,"cn":1.12},{"s":7,"k":"g","x":418.8,"cn":0.99},{"s":7,"k":"g","x":424,"cn":1.06},{"s":7,"k":"g","x":429.2,"cn":0.93},{"s":7,"k":"g","x":434.4,"cn":1.06},{"s":7,"k":"g","x":436.1,"cn":1.77},{"s":7,"k":"g","x":439.6,"cn":0.93},{"s":7,"k":"g","x":443,"cn":1.12},{"s":7,"k":"g","x":444.7,"cn":0.86},
{"s":7,"k":"b","x":45.9,"cn":0.63},{"s":7,"k":"b","x":92.5,"cn":0.66},{"s":7,"k":"b","x":99.4,"cn":0.5},{"s":7,"k":"b","x":104.6,"cn":0.6},{"s":7,"k":"b","x":127.1,"cn":0.53},{"s":7,"k":"b","x":130.5,"cn":0.57},{"s":7,"k":"b","x":182.3,"cn":0.6},{"s":7,"k":"b","x":197.9,"cn":0.4},{"s":7,"k":"b","x":201.3,"cn":0.63},{"s":7,"k":"b","x":227.2,"cn":0.6},{"s":7,"k":"b","x":246.2,"cn":0.66},{"s":7,"k":"b","x":285.9,"cn":0.53},{"s":7,"k":"b","x":304.9,"cn":0.6},{"s":7,"k":"b","x":306.6,"cn":0.37},{"s":7,"k":"b","x":337.7,"cn":0.6},{"s":7,"k":"b","x":339.4,"cn":0.37},{"s":7,"k":"b","x":393,"cn":0.6},{"s":7,"k":"b","x":403.3,"cn":0.6},{"s":7,"k":"b","x":420.5,"cn":0.57},{"s":7,"k":"b","x":444.7,"cn":0.53},
{"s":7,"k":"r","x":159.9,"cn":0.83},{"s":7,"k":"r","x":163.3,"cn":0.73},{"s":7,"k":"r","x":166.8,"cn":0.99},{"s":7,"k":"r","x":168.5,"cn":0.8},{"s":7,"k":"r","x":172,"cn":0.73},{"s":7,"k":"r","x":175.4,"cn":0.86},{"s":7,"k":"r","x":177.1,"cn":0.76},{"s":7,"k":"r","x":180.6,"cn":0.93},{"s":7,"k":"r","x":184,"cn":0.73},{"s":7,"k":"r","x":185.8,"cn":0.99},{"s":7,"k":"r","x":189.2,"cn":0.86},{"s":7,"k":"r","x":192.7,"cn":0.8},{"s":7,"k":"r","x":196.1,"cn":1.64},{"s":7,"k":"r","x":196.1,"cn":1.41},{"s":7,"k":"r","x":197.9,"cn":0.99},{"s":7,"k":"r","x":199.6,"cn":0.8},{"s":7,"k":"r","x":201.3,"cn":1.06},{"s":7,"k":"r","x":206.5,"cn":1.54},{"s":7,"k":"r","x":211.7,"cn":1.41},{"s":7,"k":"r","x":208.2,"cn":1.06},{"s":7,"k":"r","x":209.9,"cn":0.93},{"s":7,"k":"r","x":213.4,"cn":0.8},{"s":7,"k":"r","x":216.8,"cn":0.99},{"s":7,"k":"r","x":222,"cn":0.93},{"s":7,"k":"r","x":225.5,"cn":1.32},{"s":7,"k":"r","x":227.2,"cn":1.19},{"s":7,"k":"r","x":230.7,"cn":0.8},{"s":7,"k":"r","x":234.1,"cn":0.99},{"s":7,"k":"r","x":237.6,"cn":0.86},{"s":7,"k":"r","x":241,"cn":1.06},{"s":7,"k":"r","x":249.7,"cn":1.99},{"s":7,"k":"r","x":254.8,"cn":0.99},{"s":7,"k":"r","x":258.3,"cn":1.19},{"s":7,"k":"r","x":260,"cn":1.06},{"s":7,"k":"r","x":263.5,"cn":0.93},{"s":7,"k":"r","x":268.6,"cn":1.32},{"s":7,"k":"r","x":270.4,"cn":1.12},{"s":7,"k":"r","x":273.8,"cn":0.99},{"s":7,"k":"r","x":275.6,"cn":0.86},{"s":7,"k":"r","x":279,"cn":1.12},{"s":7,"k":"r","x":280.7,"cn":0.93},{"s":7,"k":"r","x":284.2,"cn":1.06},{"s":7,"k":"r","x":287.6,"cn":0.86},{"s":7,"k":"r","x":291.1,"cn":0.99},{"s":7,"k":"r","x":296.3,"cn":0.93},{"s":7,"k":"r","x":299.7,"cn":0.99},{"s":7,"k":"r","x":301.5,"cn":0.8},{"s":7,"k":"r","x":303.2,"cn":0.93},{"s":7,"k":"r","x":304.9,"cn":1.06},

{"s":8,"k":"M","x":0,"x2":58.2,"cn":1.1},{"s":8,"k":"M","x":61.6,"x2":159.4,"cn":1.1},{"s":8,"k":"M","x":159.4,"x2":203.2,"cn":2.09},{"s":8,"k":"M","x":207.3,"x2":305.7,"cn":2.09},{"s":8,"k":"M","x":306.1,"x2":353.4,"cn":2.03},{"s":8,"k":"M","x":370.7,"x2":446.9,"cn":1.99},
{"s":8,"k":"m","x":0,"x2":58.2,"cn":0.93},{"s":8,"k":"m","x":61.6,"x2":159.4,"cn":0.93},{"s":8,"k":"m","x":159.4,"x2":203.2,"cn":1.9},{"s":8,"k":"m","x":207.3,"x2":301.6,"cn":1.9},{"s":8,"k":"m","x":306.1,"x2":353.4,"cn":-0.07},{"s":8,"k":"m","x":370.7,"x2":446.9,"cn":-0.07},
{"s":8,"k":"c","x":159.35},{"s":8,"k":"c","x":305.71},
{"s":8,"k":"g","x":2.9,"cn":1.19},{"s":8,"k":"g","x":4.7,"cn":0.99},{"s":8,"k":"g","x":6.4,"cn":0.8},{"s":8,"k":"g","x":21.9,"cn":0.96},{"s":8,"k":"g","x":42.6,"cn":0.93},{"s":8,"k":"g","x":44.4,"cn":1.06},{"s":8,"k":"g","x":47.8,"cn":0.99},{"s":8,"k":"g","x":49.6,"cn":0.86},{"s":8,"k":"g","x":73.7,"cn":0.76},{"s":8,"k":"g","x":75.4,"cn":0.99},{"s":8,"k":"g","x":82.4,"cn":0.73},{"s":8,"k":"g","x":94.4,"cn":0.8},{"s":8,"k":"g","x":97.9,"cn":0.99},{"s":8,"k":"g","x":99.6,"cn":0.73},{"s":8,"k":"g","x":101.3,"cn":1.28},{"s":8,"k":"g","x":103.1,"cn":0.99},{"s":8,"k":"g","x":111.7,"cn":0.96},{"s":8,"k":"g","x":122.1,"cn":0.99},{"s":8,"k":"g","x":129,"cn":0.83},{"s":8,"k":"g","x":139.3,"cn":1.12},{"s":8,"k":"g","x":142.8,"cn":0.66},{"s":8,"k":"g","x":146.2,"cn":0.99},{"s":8,"k":"g","x":149.7,"cn":0.86},{"s":8,"k":"g","x":153.1,"cn":0.93},
{"s":8,"k":"b","x":35.7,"cn":0.63},{"s":8,"k":"b","x":87.5,"cn":0.66},{"s":8,"k":"b","x":92.7,"cn":0.66},{"s":8,"k":"b","x":103.1,"cn":0.66},{"s":8,"k":"b","x":135.9,"cn":0.66},{"s":8,"k":"b","x":142.8,"cn":0.14},{"s":8,"k":"b","x":149.7,"cn":0.31},{"s":8,"k":"b","x":168.7,"cn":0.27},{"s":8,"k":"b","x":171.1,"cn":0.23},{"s":8,"k":"b","x":229.1,"cn":0.57},{"s":8,"k":"b","x":246.4,"cn":0.6},{"s":8,"k":"b","x":260.2,"cn":0.6},{"s":8,"k":"b","x":272.3,"cn":0.53},{"s":8,"k":"b","x":303.3,"cn":0.6},{"s":8,"k":"b","x":304.4,"cn":0.4},{"s":8,"k":"b","x":304.4,"cn":0.23},{"s":8,"k":"b","x":339.6,"cn":0.47},{"s":8,"k":"b","x":387.9,"cn":0.14},{"s":8,"k":"b","x":405.2,"cn":0.31},{"s":8,"k":"b","x":441.5,"cn":0.51},
{"s":8,"k":"r","x":159.4,"cn":0.86},{"s":8,"k":"r","x":160,"cn":0.73},{"s":8,"k":"r","x":162.8,"cn":1.28},{"s":8,"k":"r","x":167,"cn":0.99},{"s":8,"k":"r","x":170.4,"cn":1.64},{"s":8,"k":"r","x":170.4,"cn":0.8},{"s":8,"k":"r","x":173.9,"cn":0.93},{"s":8,"k":"r","x":177.3,"cn":1.12},{"s":8,"k":"r","x":179,"cn":0.8},{"s":8,"k":"r","x":182.5,"cn":0.93},{"s":8,"k":"r","x":184.2,"cn":0.73},{"s":8,"k":"r","x":187.7,"cn":0.99},{"s":8,"k":"r","x":192.8,"cn":1.06},{"s":8,"k":"r","x":198,"cn":0.99},{"s":8,"k":"r","x":201.5,"cn":0.86},{"s":8,"k":"r","x":218.7,"cn":1.06},{"s":8,"k":"r","x":222.2,"cn":0.93},{"s":8,"k":"r","x":229.1,"cn":0.8},{"s":8,"k":"r","x":237.7,"cn":1.16},{"s":8,"k":"r","x":246.4,"cn":0.93},{"s":8,"k":"r","x":253.3,"cn":1.06},{"s":8,"k":"r","x":256.7,"cn":0.8},{"s":8,"k":"r","x":263.6,"cn":1.77},{"s":8,"k":"r","x":265.4,"cn":1.84},{"s":8,"k":"r","x":267.1,"cn":0.93},{"s":8,"k":"r","x":270.5,"cn":1.19},{"s":8,"k":"r","x":272.3,"cn":0.99},{"s":8,"k":"r","x":277.5,"cn":0.86},{"s":8,"k":"r","x":284.4,"cn":0.83},{"s":8,"k":"r","x":292.9,"cn":0.99},{"s":8,"k":"r","x":298.2,"cn":1.19},{"s":8,"k":"r","x":301.6,"cn":0.93},{"s":8,"k":"r","x":303.3,"cn":0.8},{"s":8,"k":"r","x":305.1,"cn":1.71},{"s":8,"k":"r","x":305.1,"cn":1.12},{"s":8,"k":"r","x":306.8,"cn":0.73},{"s":8,"k":"r","x":312,"cn":1.06},{"s":8,"k":"r","x":324.1,"cn":1.12},{"s":8,"k":"r","x":325.8,"cn":0.99},{"s":8,"k":"r","x":332.7,"cn":0.83},{"s":8,"k":"r","x":336.2,"cn":0.8},{"s":8,"k":"r","x":339.6,"cn":1.38},{"s":8,"k":"r","x":341.3,"cn":1.06},{"s":8,"k":"r","x":343,"cn":0.76},{"s":8,"k":"r","x":394.8,"cn":0.73},{"s":8,"k":"r","x":405.2,"cn":0.93},{"s":8,"k":"r","x":405.2,"cn":0.76},{"s":8,"k":"r","x":413.8,"cn":0.8},{"s":8,"k":"r","x":419,"cn":0.89},{"s":8,"k":"r","x":432.8,"cn":0.93},{"s":8,"k":"r","x":439.7,"cn":0.99},{"s":8,"k":"r","x":443.2,"cn":0.89}
]},
"facet":{"field":"s","type":"ordinal","title":null,"header":{"labelFontSize":20,"labelFont":"Liberation Sans","labelColor":"#000","labelPadding":-2.6,"labelBaseline":"alphabetic","labelExpr":"['TCGAF16874T','TCGAF1A448T','TCGAFPA4BET','TCGAHF7132T','TCGAHJ7597T','TCGAHU8602T','TCGAHUA4G8T','TCGAHUA4G9T'][datum.value-1]"}},
"resolve":{"axis":{"x":"independent","y":"independent"}},
"spec":{
"width":431.3,"height":193.3,
"layer":[
{"transform":[{"filter":"datum.k=='M'"}],"mark":{"type":"rule","color":"#231f20","strokeWidth":6,"strokeCap":"butt"},
"encoding":{
"x":{"field":"x","type":"quantitative","scale":{"domain":[0,446.9],"nice":false,"zero":false},"axis":{"values":[0,159.35,305.71],"labelExpr":"datum.value<100?'7':(datum.value<200?'8':'9')","title":"genomic location","labelFontSize":13,"titleFontSize":13}},
"x2":{"field":"x2"},
"y":{"field":"cn","type":"quantitative","scale":{"domain":[-0.27,7.29],"nice":false,"zero":false},"axis":{"values":[0,1,2,3,4,5,6,7],"labelExpr":"datum.value==7?'7+':datum.label","title":"Allele Specific CN","labelFontSize":13,"titleFontSize":13}}}},
{"transform":[{"filter":"datum.k=='m'"}],"mark":{"type":"rule","color":"#17693a","strokeWidth":7.5,"strokeCap":"butt"},
"encoding":{
"x":{"field":"x","type":"quantitative","scale":{"domain":[0,446.9],"nice":false,"zero":false},"axis":{"values":[0,159.35,305.71],"labelExpr":"datum.value<100?'7':(datum.value<200?'8':'9')","title":"genomic location","labelFontSize":13,"titleFontSize":13}},
"x2":{"field":"x2"},
"y":{"field":"cn","type":"quantitative","scale":{"domain":[-0.27,7.29],"nice":false,"zero":false},"axis":{"values":[0,1,2,3,4,5,6,7],"labelExpr":"datum.value==7?'7+':datum.label","title":"Allele Specific CN","labelFontSize":13,"titleFontSize":13}}}},
{"transform":[{"filter":"datum.k=='c'"}],"mark":{"type":"rule","color":"#000","strokeWidth":1.8,"strokeDash":[7,5]},
"encoding":{"x":{"field":"x","type":"quantitative","scale":{"domain":[0,446.9],"nice":false,"zero":false},"axis":{"values":[0,159.35,305.71],"labelExpr":"datum.value<100?'7':(datum.value<200?'8':'9')","title":"genomic location","labelFontSize":13,"titleFontSize":13}}}},
{"transform":[{"filter":"datum.k=='g'||datum.k=='b'||datum.k=='r'"}],"mark":{"type":"circle","size":50,"opacity":1},
"encoding":{
"x":{"field":"x","type":"quantitative","scale":{"domain":[0,446.9],"nice":false,"zero":false},"axis":{"values":[0,159.35,305.71],"labelExpr":"datum.value<100?'7':(datum.value<200?'8':'9')","title":"genomic location","labelFontSize":13,"titleFontSize":13}},
"y":{"field":"cn","type":"quantitative","scale":{"domain":[-0.27,7.29],"nice":false,"zero":false},"axis":{"values":[0,1,2,3,4,5,6,7],"labelExpr":"datum.value==7?'7+':datum.label","title":"Allele Specific CN","labelFontSize":13,"titleFontSize":13}},
"color":{"field":"k","type":"nominal","scale":{"domain":["r","b","g"],"range":["#ec1c24","#3953a4","#c6c6c6"]},"legend":null}}}
]},
"config":{
"font":"Liberation Sans",
"view":{"stroke":"#1a1a1a","strokeWidth":1.6},
"axis":{"labelFont":"Liberation Sans","titleFont":"Liberation Sans","labelFontSize":13,"titleFontSize":13},
"axisX":{"grid":false,"domain":false,"tickSize":8,"tickColor":"#000","tickWidth":1.3,"labelFontSize":13,"labelColor":"#000","labelBaseline":"alphabetic","labelAlign":"center","labelAngle":0,"labelPadding":19.3,"labelFlush":false,"labelOverlap":false,"titleFontSize":13,"titleFontWeight":"normal","titleColor":"#000","titleX":215.6,"titleY":59.5,"titleBaseline":"alphabetic","titleAlign":"center"},
"axisY":{"grid":true,"gridDash":[7,5],"gridColor":"#c8c8c8","gridWidth":1.5,"domain":false,"tickSize":8,"tickColor":"#000","tickWidth":1.3,"labelAngle":270,"labelAlign":"center","labelBaseline":"alphabetic","labelPadding":11,"labelFontSize":13,"labelColor":"#000","labelOverlap":false,"labelFlush":false,"titleFontSize":13,"titleFontWeight":"normal","titleColor":"#000","titleAngle":270,"titleX":-38.3,"titleY":96.7,"titleAlign":"center","titleBaseline":"alphabetic"},
"header":{"labelFont":"Liberation Sans"}
}
}
